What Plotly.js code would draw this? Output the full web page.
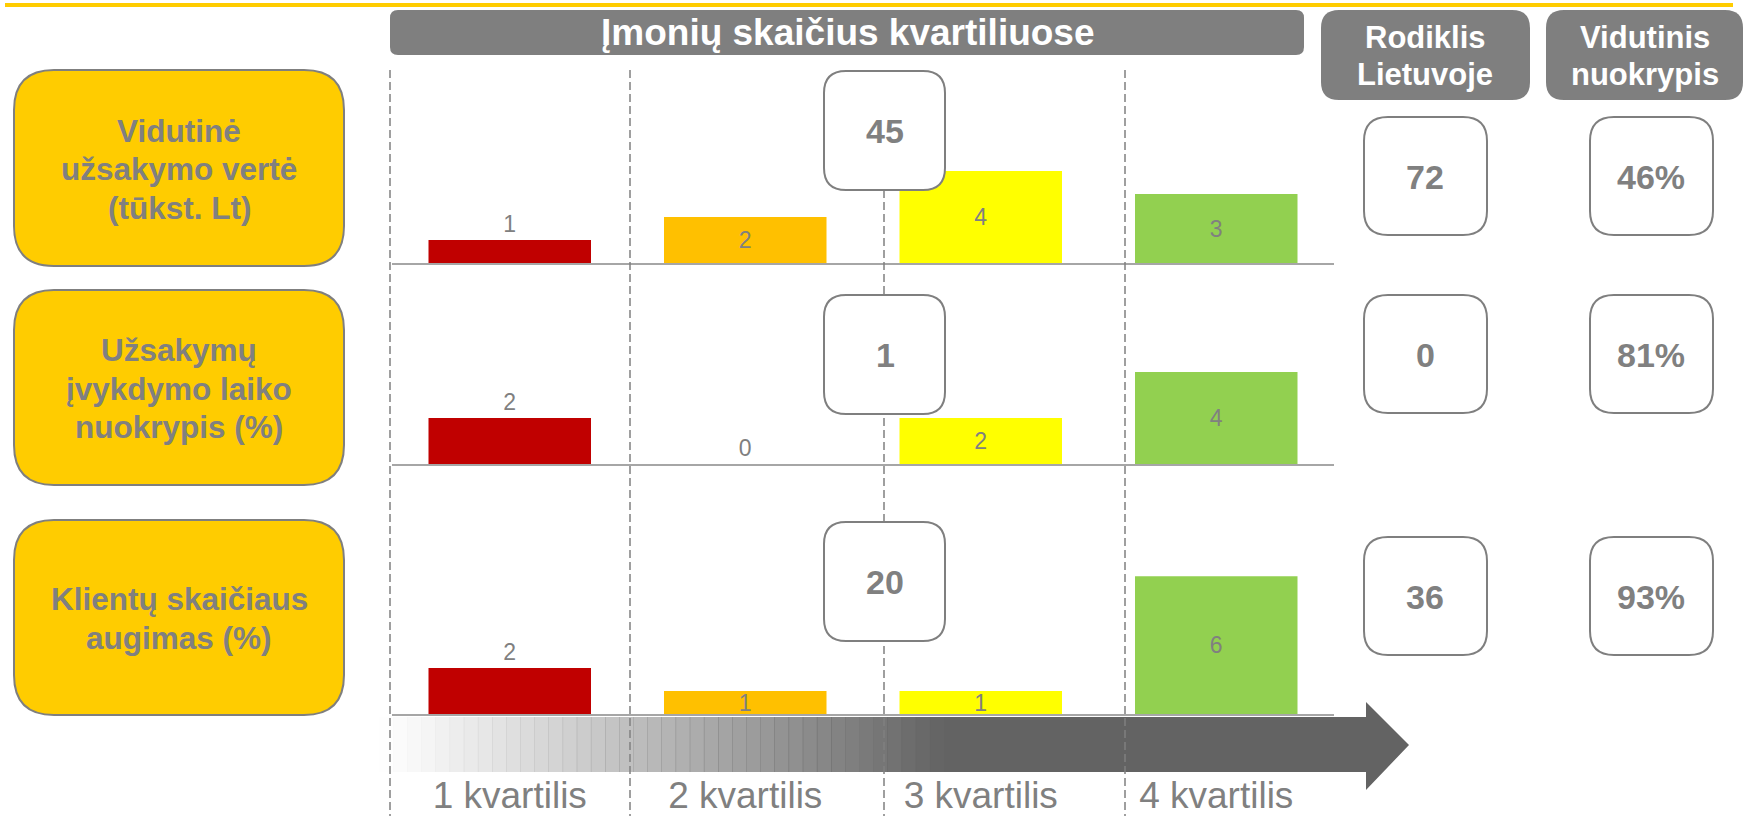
<!DOCTYPE html>
<html>
<head>
<meta charset="utf-8">
<script src="https://cdn.plot.ly/plotly-3.0.1.min.js"></script>
<style>html,body{margin:0;padding:0;background:#fff}</style>
</head>
<body>
<div id="chart" style="width:1746px;height:816px"></div>
<script>
var quartiles = ['1 kvartilis', '2 kvartilis', '3 kvartilis', '4 kvartilis'];
var indicators = [
    ['Vidutinė', 'užsakymo vertė', '(tūkst. Lt)'],
    ['Užsakymų', 'įvykdymo laiko', 'nuokrypis (%)'],
    ['Klientų skaičiaus', 'augimas (%)']
];
var row1 = [1, 2, 4, 3];
var row2 = [2, 0, 2, 4];
var row3 = [2, 1, 1, 6];
var medians = ['45', '1', '20'];
var lithuania = ['72', '0', '36'];
var deviation = ['46%', '81%', '93%'];
var barColors = ['#C00000', '#FFC000', '#FFFF00', '#92D050'];

var FONT = 'Liberation Sans, Arial, sans-serif';
var GRAY = '#808080';
var W = 1746, H = 816;

// pixel -> paper helpers (margins are 0)
function px(x) { return x / W; }
function py(y) { return 1 - y / H; }

function roundRect(x0, y0, x1, y1, r) {
    var p = function (x, y) { return px(x) + ',' + py(y); };
    return 'M' + p(x0 + r, y0) + ' L' + p(x1 - r, y0) + ' Q' + p(x1, y0) + ' ' + p(x1, y0 + r) +
        ' L' + p(x1, y1 - r) + ' Q' + p(x1, y1) + ' ' + p(x1 - r, y1) +
        ' L' + p(x0 + r, y1) + ' Q' + p(x0, y1) + ' ' + p(x0, y1 - r) +
        ' L' + p(x0, y0 + r) + ' Q' + p(x0, y0) + ' ' + p(x0 + r, y0) + ' Z';
}

function label(x, y, text, size, color) {
    return {xref: 'paper', yref: 'paper', x: px(x), y: py(y), xanchor: 'center', yanchor: 'middle',
        showarrow: false, text: text, font: {size: size, color: color}};
}

// one annotation per line so the line spacing can follow the original
function lines(x, yc, rows, spacing, size, color) {
    var top = yc - spacing * (rows.length - 1) / 2;
    rows.forEach(function (r, i) {
        layout.annotations.push(label(x, top + i * spacing, '<b>' + r + '</b>', size, color));
    });
}

function barTrace(values, n) {
    var s = n > 1 ? String(n) : '';
    return {
        type: 'bar',
        x: quartiles,
        y: values,
        xaxis: 'x' + s,
        yaxis: 'y' + s,
        marker: {color: barColors},
        text: values.map(String),
        textposition: values.map(function (v, i) { return (i === 0 || v === 0) ? 'outside' : 'inside'; }),
        textangle: 0,
        constraintext: 'none',
        insidetextanchor: 'middle',
        textfont: {family: FONT, size: 23, color: GRAY},
        cliponaxis: false,
        hoverinfo: 'none'
    };
}

var data = [barTrace(row1, 1), barTrace(row2, 2), barTrace(row3, 3)];

var baselines = [263, 464, 714];
var rowHeight = 193;
var xdom = [px(392), px(1334)];

var layout = {
    width: W,
    height: H,
    margin: {l: 0, r: 0, t: 0, b: 0},
    paper_bgcolor: '#ffffff',
    plot_bgcolor: 'rgba(0,0,0,0)',
    showlegend: false,
    bargap: 0.31,
    font: {family: FONT, color: GRAY},
    shapes: [],
    annotations: []
};

baselines.forEach(function (b, i) {
    var s = i > 0 ? String(i + 1) : '';
    layout['xaxis' + s] = {
        domain: xdom,
        anchor: 'y' + s,
        showline: true,
        linecolor: '#a6a6a6',
        linewidth: 2,
        showgrid: false,
        zeroline: false,
        ticks: '',
        showticklabels: i === 2,
        tickfont: {family: FONT, size: 37, color: GRAY},
        ticklabelstandoff: 48,
        fixedrange: true
    };
    layout['yaxis' + s] = {
        domain: [py(b), py(b - rowHeight)],
        range: [0, 8.4],
        visible: false,
        fixedrange: true
    };
});

var shapes = layout.shapes;
var ann = layout.annotations;

// top yellow rule
shapes.push({type: 'line', xref: 'paper', yref: 'paper', x0: px(5), x1: px(1733), y0: py(5), y1: py(5),
    line: {color: '#FFCC00', width: 4}});

// header boxes
shapes.push({type: 'path', xref: 'paper', yref: 'paper', path: roundRect(390, 10, 1304, 55, 8),
    fillcolor: '#7F7F7F', line: {width: 0}});
shapes.push({type: 'path', xref: 'paper', yref: 'paper', path: roundRect(1321, 10, 1530, 100, 18),
    fillcolor: '#7F7F7F', line: {width: 0}});
shapes.push({type: 'path', xref: 'paper', yref: 'paper', path: roundRect(1546, 10, 1743, 100, 18),
    fillcolor: '#7F7F7F', line: {width: 0}});
ann.push(label(848, 33, '<b>Įmonių skaičius kvartiliuose</b>', 37, '#ffffff'));
lines(1425, 56, ['Rodiklis', 'Lietuvoje'], 37, 31, '#ffffff');
lines(1645, 56, ['Vidutinis', 'nuokrypis'], 37, 31, '#ffffff');

// arrow: faded tail + solid body with head
var tailStart = 379, tailEnd = 944, nStrips = 40;
for (var k = 0; k < nStrips; k++) {
    var a = tailStart + (tailEnd - tailStart) * k / nStrips;
    var b = tailStart + (tailEnd - tailStart) * (k + 1) / nStrips + 0.5;
    shapes.push({type: 'rect', xref: 'paper', yref: 'paper', x0: px(a), x1: px(b), y0: py(772), y1: py(717),
        fillcolor: '#636363', opacity: Math.pow((k + 0.5) / nStrips, 1.1), line: {width: 0}});
}
shapes.push({type: 'path', xref: 'paper', yref: 'paper',
    path: 'M' + px(944) + ',' + py(717) + ' L' + px(1366) + ',' + py(717) + ' L' + px(1366) + ',' + py(702) +
        ' L' + px(1409) + ',' + py(745) + ' L' + px(1366) + ',' + py(790) + ' L' + px(1366) + ',' + py(772) +
        ' L' + px(944) + ',' + py(772) + ' Z',
    fillcolor: '#636363', line: {width: 0}});

// dashed quartile separators
[390, 630, 884, 1125].forEach(function (x) {
    shapes.push({type: 'line', xref: 'paper', yref: 'paper', x0: px(x), x1: px(x), y0: py(70), y1: py(816),
        line: {color: GRAY, width: 1.5, dash: '8px,4px'}});
});

// left indicator labels
var leftBoxes = [[70, 266], [290, 485], [520, 715]];
leftBoxes.forEach(function (bx, i) {
    shapes.push({type: 'path', xref: 'paper', yref: 'paper', path: roundRect(14, bx[0], 344, bx[1], 40),
        fillcolor: '#FFCC00', line: {color: '#7F7F7F', width: 2}});
    lines(179, (bx[0] + bx[1]) / 2 + 1, indicators[i], 38.5, 31.5, GRAY);
});

// median boxes in the middle of the chart
var midTops = [71, 295, 522];
midTops.forEach(function (t, i) {
    shapes.push({type: 'path', xref: 'paper', yref: 'paper', path: roundRect(824, t, 945, t + 119, 22),
        fillcolor: '#ffffff', line: {color: '#7F7F7F', width: 2}});
    ann.push(label(885, t + 60, '<b>' + medians[i] + '</b>', 34, GRAY));
});

// right columns
var rightTops = [117, 295, 537];
rightTops.forEach(function (t, i) {
    shapes.push({type: 'path', xref: 'paper', yref: 'paper', path: roundRect(1364, t, 1487, t + 118, 24),
        fillcolor: '#ffffff', line: {color: '#7F7F7F', width: 2}});
    shapes.push({type: 'path', xref: 'paper', yref: 'paper', path: roundRect(1590, t, 1713, t + 118, 24),
        fillcolor: '#ffffff', line: {color: '#7F7F7F', width: 2}});
    ann.push(label(1425, t + 60, '<b>' + lithuania[i] + '</b>', 34, GRAY));
    ann.push(label(1651, t + 60, '<b>' + deviation[i] + '</b>', 34, GRAY));
});

Plotly.newPlot('chart', data, layout, {displayModeBar: false, staticPlot: true});
</script>
</body>
</html>
